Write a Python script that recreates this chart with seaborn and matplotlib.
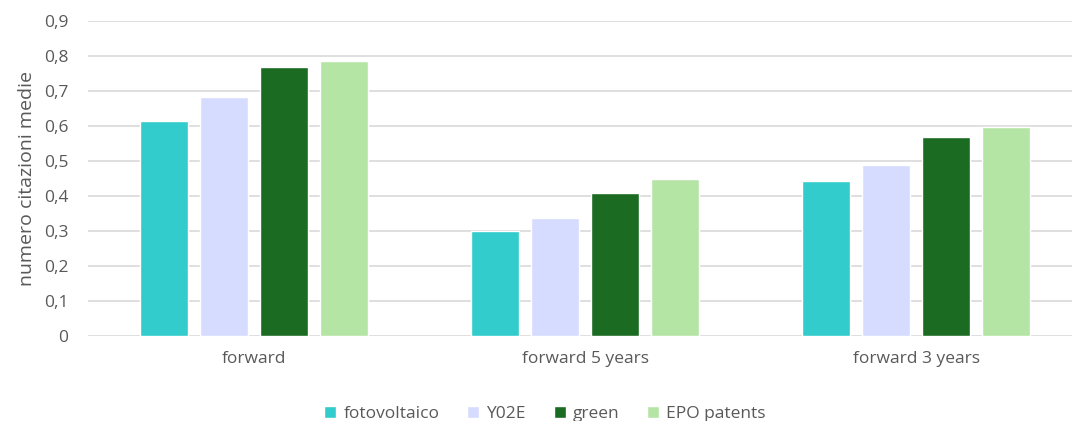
import numpy as np
import pandas as pd
import matplotlib
matplotlib.use('Agg')
import matplotlib.pyplot as plt
from matplotlib.ticker import FuncFormatter
import seaborn as sns

categories = ['forward', 'forward 5 years', 'forward 3 years']
series = ['fotovoltaico', 'Y02E', 'green', 'EPO patents']
fotovoltaico = [0.614, 0.300, 0.443]
y02e = [0.684, 0.336, 0.489]
green = [0.768, 0.410, 0.569]
epo = [0.786, 0.449, 0.596]
colors = ['#33CCCC', '#D6DCFF', '#1B6B23', '#B5E5A5']

rows = []
for name, vals in zip(series, [fotovoltaico, y02e, green, epo]):
    for cat, v in zip(categories, vals):
        rows.append({'cat': cat, 'serie': name, 'val': v})
df = pd.DataFrame(rows)

sns.set_theme(style='white')
plt.rcParams['font.family'] = ['Open Sans', 'DejaVu Sans']
txt = '#595959'

fig = plt.figure(figsize=(10.72, 4.21), dpi=100)
ax = fig.add_axes([88 / 1072, 85 / 421, (1082 - 88) / 1072, 315 / 421])
sns.barplot(data=df, x='cat', y='val', hue='serie', order=categories, hue_order=series,
            palette=colors, width=0.725, gap=0.2, ax=ax, saturation=1, legend=True)

ax.set_xlim(-0.5, 2.5)
ax.set_ylim(0, 0.9)
ax.set_yticks(np.arange(0, 0.91, 0.1))
ax.yaxis.set_major_formatter(FuncFormatter(lambda v, p: '0' if abs(v) < 1e-9 else f'{v:.1f}'.replace('.', ',')))
ax.yaxis.grid(True, color='#D9D9D9', linewidth=1.2)
ax.set_axisbelow(True)
for s in ax.spines.values():
    s.set_visible(False)
ax.tick_params(axis='both', length=0, colors=txt, labelsize=12.5)
ax.tick_params(axis='y', pad=14)
ax.tick_params(axis='x', pad=11)
ax.set_xlabel('')
ax.set_ylabel('numero citazioni medie', color=txt, fontsize=14, labelpad=6)

ax.legend(loc='center', bbox_to_anchor=(545 / 1072, 7 / 421), bbox_transform=fig.transFigure,
          ncol=4, frameon=False, fontsize=12.5, labelcolor=txt, handlelength=0.7, handleheight=0.7,
          handletextpad=0.4, columnspacing=1.6)

fig.savefig('out.png', dpi=100)
